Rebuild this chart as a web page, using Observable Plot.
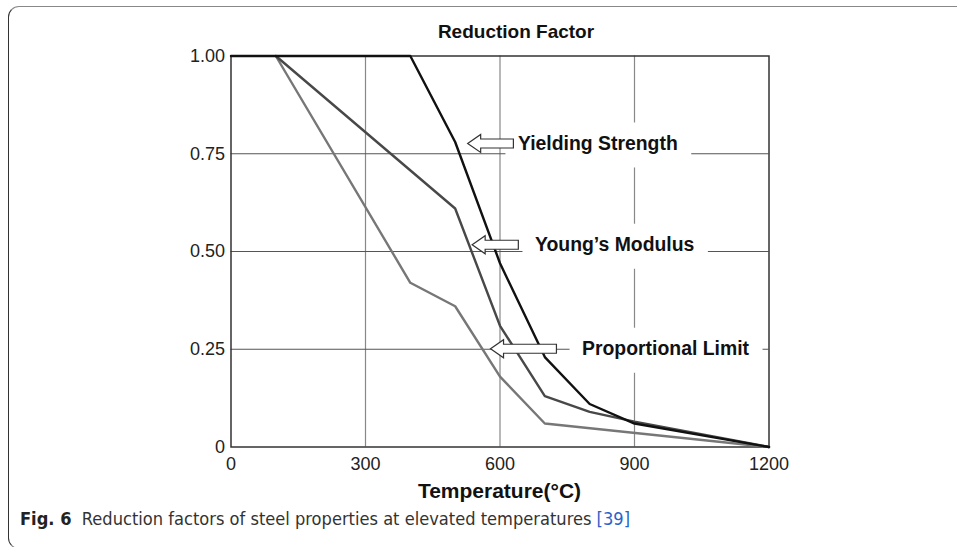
<!DOCTYPE html>
<html>
<head>
<meta charset="utf-8">
<script src="https://cdn.jsdelivr.net/npm/d3@7"></script>
<script src="https://cdn.jsdelivr.net/npm/@observablehq/plot@0.6"></script>
<style>
  html, body { margin: 0; padding: 0; background: #fff; overflow: hidden; }
  #page { position: relative; width: 957px; height: 547px; overflow: hidden; font-family: "Liberation Sans", Arial, sans-serif; }
  #box { position: absolute; left: 8px; top: 6px; width: 1100px; height: 543px; box-sizing: border-box;
         border-top: 1.2px solid #888; border-left: 1.2px solid #333; border-bottom: 1.2px solid #888; border-right: none;
         border-radius: 11px 0 0 11px; }
  #title { position: absolute; left: 0; width: 1032px; top: 21px; text-align: center; font-weight: bold; font-size: 19px; color: #111; }
  #chart { position: absolute; left: 0; top: 0; }
  #xlabel { position: absolute; left: 0; width: 999px; top: 479px; text-align: center; font-weight: bold; font-size: 21px; color: #111; }
  #caption { position: absolute; left: 20px; top: 509px; font-family: "DejaVu Sans Condensed", "Liberation Sans Narrow", sans-serif; font-size: 17px; color: #333; white-space: nowrap; transform-origin: 0 50%; }
  #caption b { color: #222; }
  #caption .ref { color: #2a62c9; }
</style>
</head>
<body>
<div id="page">
  <div id="box"></div>
  <div id="title">Reduction Factor</div>
  <div id="chart"></div>
  <div id="xlabel">Temperature(°C)</div>
  <div id="caption"><b>Fig. 6</b>&nbsp; Reduction factors of steel properties at elevated temperatures <span class="ref">[39]</span></div>
</div>
<script>
// Reduction factors of steel vs. temperature (°C)
const yieldTemp = [0, 400, 500, 600, 700, 800, 900, 1200];
const yieldFactor = [1, 1, 0.78, 0.47, 0.23, 0.11, 0.06, 0];

const modulusTemp = [100, 500, 600, 700, 800, 900, 1200];
const modulusFactor = [1, 0.61, 0.31, 0.13, 0.09, 0.065, 0];

const propTemp = [100, 400, 500, 600, 700, 1200];
const propFactor = [1, 0.42, 0.36, 0.18, 0.06, 0];

// Axis ticks and their labels
const xTicks = [0, 300, 600, 900, 1200];
const xTickLabels = ["0", "300", "600", "900", "1200"];
const yTicks = [0, 0.25, 0.5, 0.75, 1];
const yTickLabels = ["0", "0.25", "0.50", "0.75", "1.00"];
const gridTemps = [300, 600, 900];
const gridFactors = [0.25, 0.5, 0.75];

// Callout labels: arrow tip, arrow tail and text start (°C), shared level
const labelNames = ["Yielding Strength", "Young\u2019s Modulus", "Proportional Limit"];
const arrowTipTemp = [529, 539, 580];
const arrowTailTemp = [631, 642, 727];
const labelTemp = [640, 678, 783];
const labelFactor = [0.775, 0.516, 0.25];

const toRows = (ts, fs) => ts.map((t, i) => ({t, f: fs[i]}));
const labels = labelNames.map((name, i) => ({name, tip: arrowTipTemp[i], tail: arrowTailTemp[i], at: labelTemp[i], f: labelFactor[i]}));

const labelFont = "bold 19.4px 'Liberation Sans', Arial, sans-serif";
const measure = (() => {
  const ctx = document.createElement("canvas").getContext("2d");
  ctx.font = labelFont;
  return s => ctx.measureText(s).width;
})();

// White panels behind the callout texts (they interrupt the grid)
function labelPanels(index, {x, y}) {
  const g = d3.create("svg:g").attr("fill", "#fff");
  for (const d of labels) {
    const x0 = x(d.at), cy = y(d.f);
    g.append("rect")
      .attr("x", x0 - 12).attr("y", cy - 21)
      .attr("width", measure(d.name) + 26).attr("height", 45);
  }
  return g.node();
}

// Hollow block arrows pointing at each curve
function labelArrows(index, {x, y}) {
  const g = d3.create("svg:g").attr("fill", "#fff").attr("stroke", "#333").attr("stroke-width", 1.2);
  for (const d of labels) {
    const tx = x(d.tip), tl = x(d.tail), cy = y(d.f), hx = tx + 13;
    g.append("polygon").attr("points", [
      [tx, cy], [hx, cy - 9], [hx, cy - 4.5], [tl, cy - 4.5],
      [tl, cy + 4.5], [hx, cy + 4.5], [hx, cy + 9]
    ].map(p => p.join(",")).join(" "));
  }
  return g.node();
}

const chart = Plot.plot({
  width: 957,
  height: 478,
  marginLeft: 230.5,
  marginRight: 188.5,
  marginTop: 55.5,
  marginBottom: 31.5,
  style: {fontFamily: "'Liberation Sans', Arial, sans-serif", fontSize: "18px", color: "#222", background: "transparent", overflow: "visible"},
  x: {domain: [0, 1200], ticks: xTicks, tickFormat: d => xTickLabels[xTicks.indexOf(d)], tickSize: 0, tickPadding: 10, label: null},
  y: {domain: [0, 1], ticks: yTicks, tickFormat: d => yTickLabels[yTicks.indexOf(d)], tickSize: 0, tickPadding: 6, label: null},
  marks: [
    Plot.ruleX(gridTemps, {stroke: "#888", strokeWidth: 1.2}),
    Plot.ruleY(gridFactors, {stroke: "#555", strokeWidth: 1.1}),
    labelPanels,
    Plot.frame({stroke: "#333", strokeWidth: 1.5}),
    Plot.line(toRows(propTemp, propFactor), {x: "t", y: "f", stroke: "#777", strokeWidth: 2.4}),
    Plot.line(toRows(modulusTemp, modulusFactor), {x: "t", y: "f", stroke: "#484848", strokeWidth: 2.4}),
    Plot.line(toRows(yieldTemp, yieldFactor), {x: "t", y: "f", stroke: "#111", strokeWidth: 2.4}),
    labelArrows,
    Plot.text(labels, {x: "at", y: "f", text: "name", textAnchor: "start", fontWeight: "bold", fontSize: 19.4, fill: "#111"})
  ]
});
document.getElementById("chart").appendChild(chart);

// Set the caption line to its column width
const caption = document.getElementById("caption");
caption.style.transform = `scaleX(${610 / caption.getBoundingClientRect().width})`;
</script>
</body>
</html>
